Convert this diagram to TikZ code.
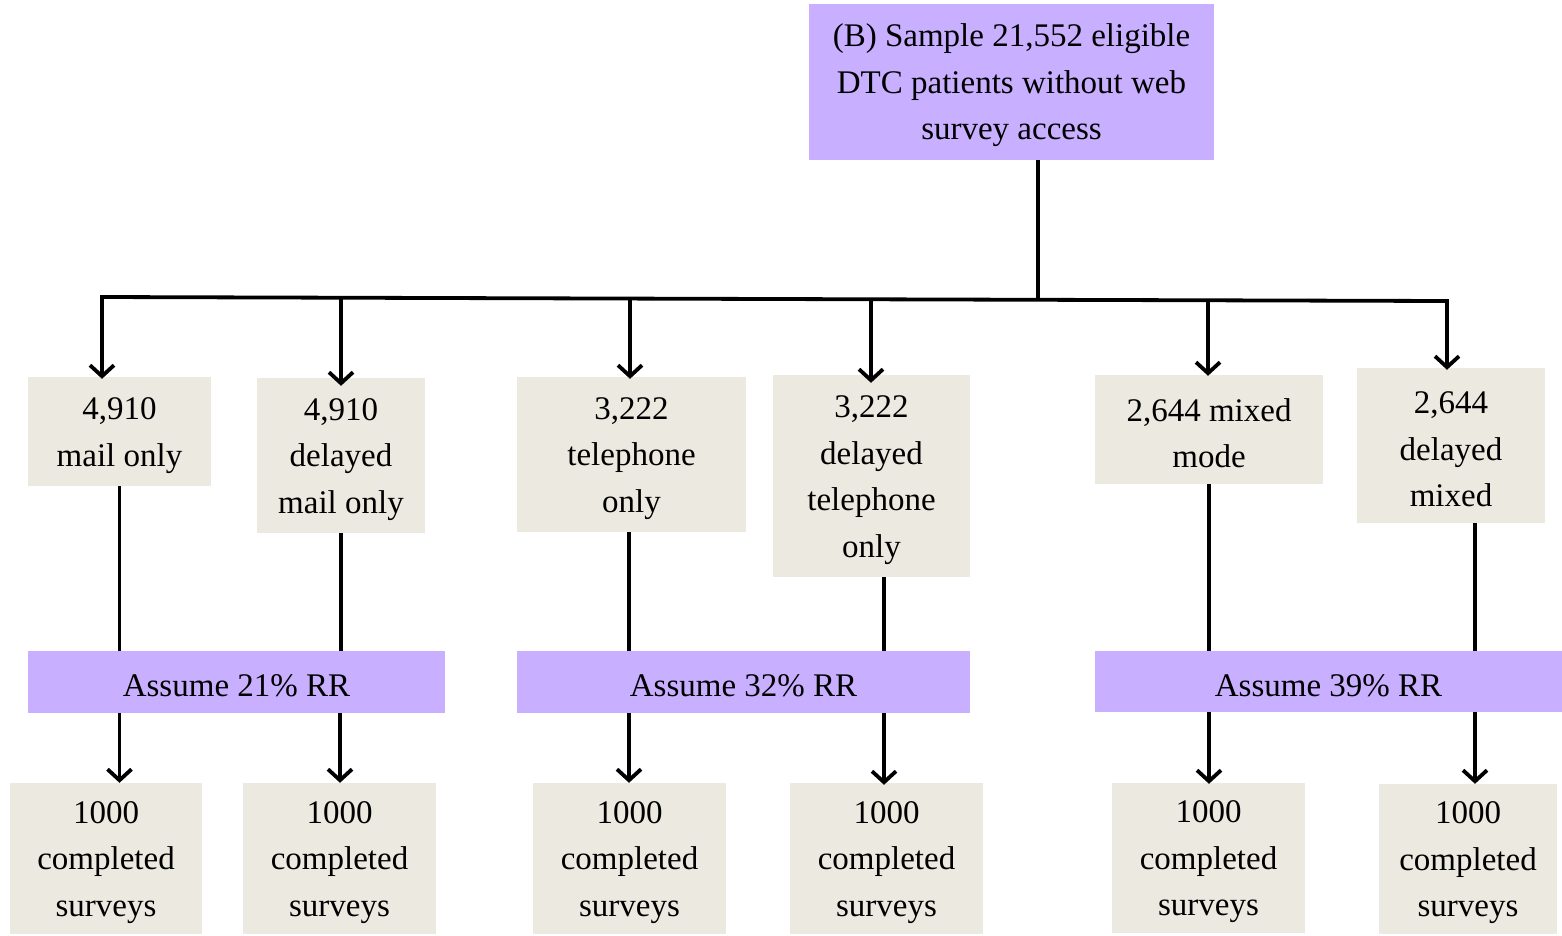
\documentclass[tikz,border=0pt]{standalone}
\usepackage{fontspec}
\setmainfont{Liberation Serif}
\usetikzlibrary{arrows.meta}
\definecolor{lav}{RGB}{200,175,255}
\definecolor{beige}{RGB}{236,234,224}
\newcommand\topstrut{\rule{0pt}{30pt}}
\begin{document}
\begin{tikzpicture}[x=1pt,y=-1pt,
  every node/.style={font=\fontsize{33}{46.5}\selectfont, align=center, inner sep=0pt},
  pbox/.style={fill=lav, rectangle},
  bbox/.style={fill=beige, rectangle},
  conn/.style={line width=3.8pt},
  arr/.style={line width=3.8pt, -{Straight Barb[length=11pt,width=24pt]}}]
\useasboundingbox (0,0) rectangle (1562,935);
% top
\node[pbox, minimum width=405pt, minimum height=156pt] (top) at (1011.5,82) {\topstrut(B) Sample 21,552 eligible\\DTC patients without web\\survey access};
% level 2
\node[bbox, minimum width=183pt, minimum height=109pt] (b1) at (119.5,431.5) {\topstrut4,910\\mail only};
\node[bbox, minimum width=168pt, minimum height=155pt] (b2) at (341,455.5) {\topstrut4,910\\delayed\\mail only};
\node[bbox, minimum width=229pt, minimum height=155pt] (b3) at (631.5,454.5) {\topstrut3,222\\telephone\\only};
\node[bbox, minimum width=197pt, minimum height=202pt] (b4) at (871.5,476) {\topstrut3,222\\delayed\\telephone\\only};
\node[bbox, minimum width=228pt, minimum height=109pt] (b5) at (1209,429.5) {\topstrut2,644 mixed\\mode};
\node[bbox, minimum width=188pt, minimum height=155pt] (b6) at (1451,445.5) {\topstrut2,644\\delayed\\mixed};
% RR bars
\node[pbox, minimum width=417pt, minimum height=62pt] (r1) at (236.5,682) {\topstrut Assume 21\% RR};
\node[pbox, minimum width=453pt, minimum height=62pt] (r2) at (743.5,682) {\topstrut Assume 32\% RR};
\node[pbox, minimum width=467pt, minimum height=61pt] (r3) at (1328.5,681.5) {\topstrut Assume 39\% RR};
% bottom
\node[bbox, minimum width=192pt, minimum height=151pt] (c1) at (106,858.5) {\topstrut1000\\completed\\surveys};
\node[bbox, minimum width=193pt, minimum height=151pt] (c2) at (339.5,858.5) {\topstrut1000\\completed\\surveys};
\node[bbox, minimum width=193pt, minimum height=151pt] (c3) at (629.5,858.5) {\topstrut1000\\completed\\surveys};
\node[bbox, minimum width=193pt, minimum height=151pt] (c4) at (886.5,858.5) {\topstrut1000\\completed\\surveys};
\node[bbox, minimum width=193pt, minimum height=150pt] (c5) at (1208.5,858) {\topstrut1000\\completed\\surveys};
\node[bbox, minimum width=178pt, minimum height=150pt] (c6) at (1468,859) {\topstrut1000\\completed\\surveys};
% bar coordinates
\coordinate (j1) at (102,297);
\coordinate (j2) at (341,297.7);
\coordinate (j3) at (630,298.6);
\coordinate (j4) at (871,299.3);
\coordinate (js) at (1038,299.8);
\coordinate (j5) at (1208,300.3);
\coordinate (j6) at (1447,301);
\draw[conn] (top.south -| js) -- (js);
\draw[conn, line cap=rect] (j1) -- (j6);
\draw[arr] (j1) -- ([yshift=-2pt]j1 |- b1.north);
\draw[arr] (j2) -- ([yshift=-8pt]j2 |- b2.north);
\draw[arr] (j3) -- ([yshift=-2pt]j3 |- b3.north);
\draw[arr] (j4) -- ([yshift=-8pt]j4 |- b4.north);
\draw[arr] (j5) -- ([yshift=-1pt]j5 |- b5.north);
\draw[arr] (j6) -- ([yshift=-2pt]j6 |- b6.north);
% down lines to RR bars
\draw[conn] (b1.south) -- (b1.south |- r1.north);
\draw[conn] (b2.south) -- (b2.south |- r1.north);
\draw[conn] ([xshift=-2.5pt]b3.south) -- ([xshift=-2.5pt]b3.south |- r2.north);
\draw[conn] ([xshift=12.5pt]b4.south) -- ([xshift=12.5pt]b4.south |- r2.north);
\draw[conn] (b5.south) -- (b5.south |- r3.north);
\draw[conn] ([xshift=24pt]b6.south) -- ([xshift=24pt]b6.south |- r3.north);
% arrows to bottom
\draw[arr] (r1.south -| b1.south) -- (c1.north -| b1.south);
\draw[arr] ([xshift=-1pt]r1.south -| b2.south) -- ([xshift=-1pt]c2.north -| b2.south);
\draw[arr] ([xshift=-2.5pt]r2.south -| b3.south) -- ([xshift=-2.5pt]c3.north -| b3.south);
\draw[arr] ([xshift=12.5pt]r2.south -| b4.south) -- ([xshift=12.5pt,yshift=-2pt]c4.north -| b4.south);
\draw[arr] (r3.south -| b5.south) -- ([yshift=-1pt]c5.north -| b5.south);
\draw[arr] ([xshift=24pt]r3.south -| b6.south) -- ([xshift=24pt]c6.north -| b6.south);
\end{tikzpicture}
\end{document}
